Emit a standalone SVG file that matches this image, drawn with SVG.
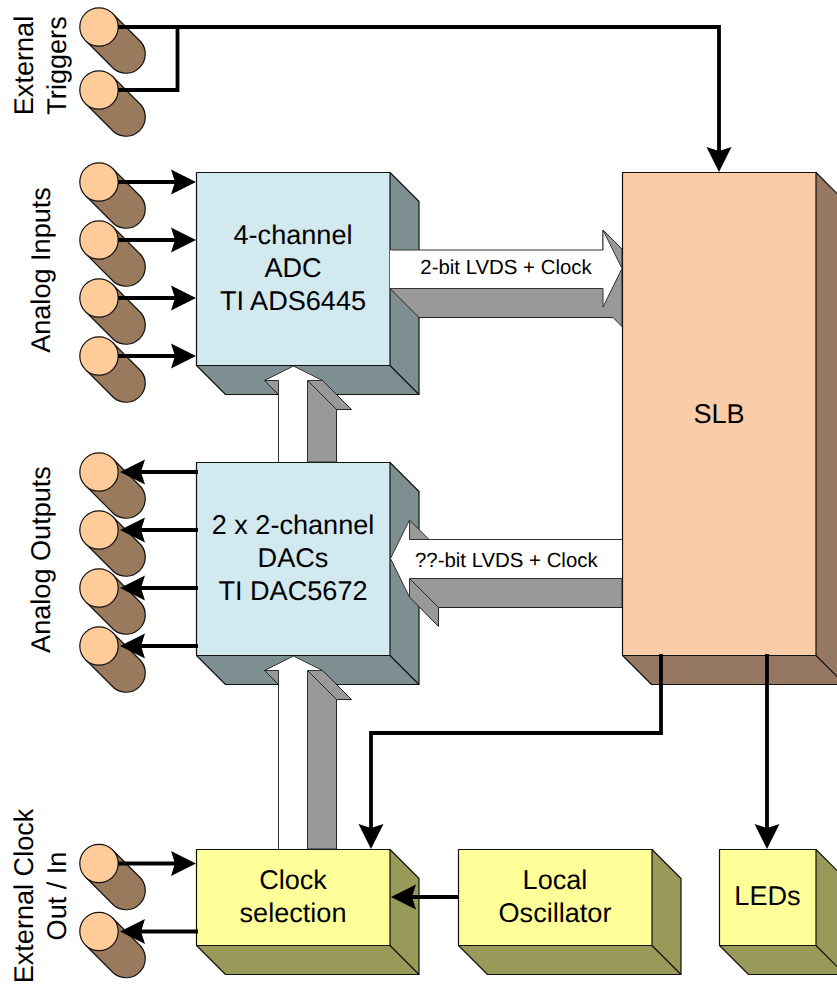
<svg xmlns="http://www.w3.org/2000/svg" width="837" height="986" viewBox="0 0 837 986">
<style>
text{font-family:"Liberation Sans",Arial,sans-serif;font-size:27.1px;fill:#000;text-anchor:middle;text-rendering:geometricPrecision}
.lbl{font-size:20.4px}
.e{stroke:#111;stroke-width:1.2;stroke-linejoin:round}
.bf{fill:#D2E9EF}.bs{fill:#7E8F92}
.yf{fill:#FFFF99}.ys{fill:#999959}
.pf{fill:#FACCA8}.ps{fill:#967862}
.cb{fill:#997A5C}.cc{fill:#FFCC99}
.w{stroke:#000;stroke-width:3.8;fill:none;stroke-linejoin:miter}
.a{marker-end:url(#head)}
.g{fill:#999;stroke:#222;stroke-width:1;stroke-linejoin:round}
.h{fill:#fff;stroke:#333;stroke-width:1;stroke-linejoin:round}
.n{fill:#fff;stroke:none}
</style>
<defs>
<marker id="head" markerUnits="userSpaceOnUse" markerWidth="26" markerHeight="26" refX="20" refY="13" orient="auto">
<path d="M25,13 L0,0.5 L4,13 L0,25.5Z" fill="#000"/>
</marker>
<g id="cyl">
<path class="e cb" d="M13.500,-13.500 L42,15 A19.200,19.200 0 0 1 15,42 L-13.500,13.500Z"/>
<circle class="e cc" r="19.200"/>
</g>
</defs>

<g id="cylinders">
<use id="trigger-1" href="#cyl" x="99" y="27"/>
<use id="trigger-2" href="#cyl" x="99" y="90"/>
<use id="analog-in-1" href="#cyl" x="99" y="182"/>
<use id="analog-in-2" href="#cyl" x="99" y="240"/>
<use id="analog-in-3" href="#cyl" x="99" y="298"/>
<use id="analog-in-4" href="#cyl" x="99" y="356"/>
<use id="analog-out-1" href="#cyl" x="99" y="472"/>
<use id="analog-out-2" href="#cyl" x="99" y="530"/>
<use id="analog-out-3" href="#cyl" x="99" y="588"/>
<use id="analog-out-4" href="#cyl" x="99" y="646"/>
<use id="clock-in" href="#cyl" x="99" y="863.500"/>
<use id="clock-out" href="#cyl" x="99" y="931.500"/>
</g>

<g id="labels">
<text transform="translate(33,65.500) rotate(-90)">External</text>
<text transform="translate(66,65.500) rotate(-90)">Triggers</text>
<text transform="translate(50,270) rotate(-90)">Analog Inputs</text>
<text transform="translate(50,559.500) rotate(-90)">Analog Outputs</text>
<text transform="translate(33,896) rotate(-90)">External Clock</text>
<text transform="translate(66,896) rotate(-90)">Out / In</text>
</g>

<g id="adc">
<path class="e bs" d="M390,172.500 L419,201.500 V394.500 H225.500 L196.500,365.500Z"/>
<path class="e" fill="none" d="M390,365.500 L419,394.500"/>
<rect class="e bf" x="196.500" y="172.500" width="193.500" height="193"/>
<text x="293" y="243.500">4-channel</text><text x="293" y="276.500">ADC</text><text x="293" y="309.500">TI ADS6445</text>
</g>
<g id="dac">
<path class="e bs" d="M390,462.500 L419,491.500 V684.500 H225.500 L196.500,655.500Z"/>
<path class="e" fill="none" d="M390,655.500 L419,684.500"/>
<rect class="e bf" x="196.500" y="462.500" width="193.500" height="193"/>
<text x="293" y="533.500">2 x 2-channel</text><text x="293" y="566.500">DACs</text><text x="293" y="599.500">TI DAC5672</text>
</g>
<g id="slb">
<path class="e ps" d="M816,172.500 L845,201.500 V684.500 H651.500 L622.500,655.500Z"/>
<path class="e" fill="none" d="M816,655.500 L845,684.500"/>
<rect class="e pf" x="622.500" y="172.500" width="193.500" height="483"/>
<text x="719" y="423">SLB</text>
</g>
<g id="clock-selection">
<path class="e ys" d="M390,849.500 L419,878.500 V974.500 H225.500 L196.500,945.500Z"/>
<path class="e" fill="none" d="M390,945.500 L419,974.500"/>
<rect class="e yf" x="196.500" y="849.500" width="193.500" height="96"/>
<text x="293" y="888.500">Clock</text><text x="293" y="921.500">selection</text>
</g>
<g id="local-oscillator">
<path class="e ys" d="M652,849.500 L681,878.500 V974.500 H487.500 L458.500,945.500Z"/>
<path class="e" fill="none" d="M652,945.500 L681,974.500"/>
<rect class="e yf" x="458.500" y="849.500" width="193.500" height="96"/>
<text x="555" y="888.500">Local</text><text x="555" y="921.500">Oscillator</text>
</g>
<g id="leds">
<path class="e ys" d="M816,849.500 L845,878.500 V974.500 H748.500 L719.500,945.500Z"/>
<path class="e" fill="none" d="M816,945.500 L845,974.500"/>
<rect class="e yf" x="719.500" y="849.500" width="96.500" height="96"/>
<text x="767.500" y="905">LEDs</text>
</g>

<g id="connectors">
<path class="w" d="M118,90 H177.500 V27"/>
<path class="w a" d="M118,27 H719 V167"/>
<path class="w a" d="M118,182 H191"/>
<path class="w a" d="M118,240 H191"/>
<path class="w a" d="M118,298 H191"/>
<path class="w a" d="M118,356 H191"/>
<path class="w a" d="M198,472 H125"/>
<path class="w a" d="M198,530 H125"/>
<path class="w a" d="M198,588 H125"/>
<path class="w a" d="M198,646 H125"/>
<path class="w a" d="M118,863.500 H191"/>
<path class="w a" d="M198,931.500 H125"/>
<path class="w a" d="M661,654 V733 H371 V844"/>
<path class="w a" d="M767,654 V844"/>
<path class="w a" d="M459,897 H396"/>

<g id="adc-to-slb">
<path class="g" d="M390,288.500 L419,317.500 H613 L622,326.500 V249 L603,230 V288.500Z"/>
<path class="h" d="M390,250 H603 V230 L622,268.500 L603,307 V288.500 H390"/>
<path class="n" d="M390,250.500 H392 V288 H390Z"/>
<text class="lbl" x="506" y="274.300">2-bit LVDS + Clock</text>
</g>
<g id="slb-to-dac">
<path class="g" d="M409.500,520 L429,539.500 H409.500Z"/>
<path class="g" d="M409.500,578.500 L438.500,607.500 H622 V578.500Z"/>
<path class="g" d="M409.500,578.500 L438.500,607.500 V626.500 L409.500,597Z"/>
<path class="h" d="M622,539.500 H409.500 V520 L390.500,558.500 L409.500,597 V578.500 H622"/>
<text class="lbl" x="506.300" y="566.700">??-bit LVDS + Clock</text>
</g>
<g id="dac-to-adc">
<path class="g" d="M264.500,380.500 H278.500 V394.500Z"/>
<path class="g" d="M307.500,380.500 L336.500,409.500 V462 H307.500Z"/>
<path class="g" d="M307.500,380.500 H322.500 L351.500,409.500 H336.500Z"/>
<path class="h" d="M278.500,462 V380.500 H264.500 L293.500,366 L322.500,380.500 H307.500 V462"/>
</g>
<g id="clock-to-dac">
<path class="g" d="M264.500,670.500 H278.500 V684.500Z"/>
<path class="g" d="M307.500,670.500 L336.500,699.500 V849 H307.500Z"/>
<path class="g" d="M307.500,670.500 H322.500 L351.500,699.500 H336.500Z"/>
<path class="h" d="M278.500,849 V670.500 H264.500 L293.500,656 L322.500,670.500 H307.500 V849"/>
</g>
</g>
</svg>
